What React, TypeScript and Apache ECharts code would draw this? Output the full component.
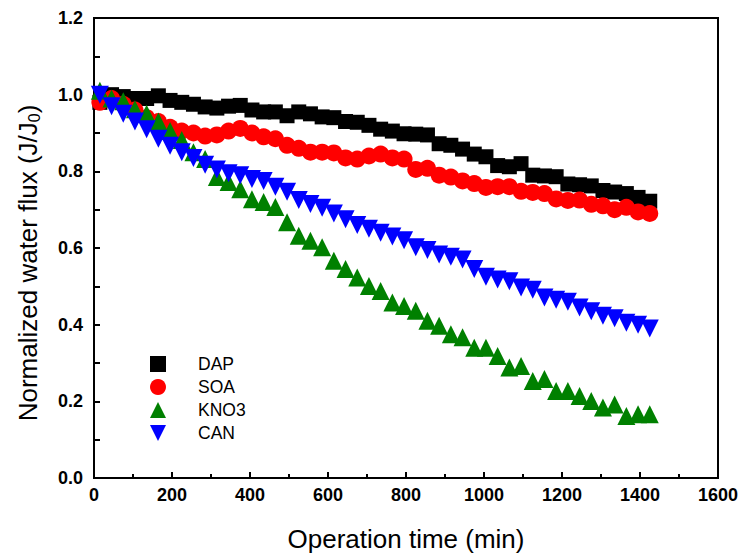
import React, { useEffect, useRef } from "react";
import * as echarts from "echarts";

const times = [15, 45, 75, 105, 135, 165, 195, 225, 255, 285, 315, 345, 375, 405, 435, 465, 495, 525, 555, 585, 615, 645, 675, 705, 735, 765, 795, 825, 855, 885, 915, 945, 975, 1005, 1035, 1065, 1095, 1125, 1155, 1185, 1215, 1245, 1275, 1305, 1335, 1365, 1395, 1425];

const dap = [0.98, 1.0, 0.995, 0.99, 0.99, 0.997, 0.985, 0.98, 0.975, 0.968, 0.965, 0.97, 0.972, 0.96, 0.955, 0.955, 0.945, 0.955, 0.95, 0.942, 0.94, 0.93, 0.928, 0.92, 0.91, 0.905, 0.898, 0.897, 0.895, 0.872, 0.868, 0.858, 0.845, 0.838, 0.815, 0.812, 0.82, 0.79, 0.788, 0.786, 0.767, 0.765, 0.762, 0.75, 0.746, 0.742, 0.732, 0.722];

const soa = [0.98, 0.99, 0.975, 0.96, 0.94, 0.93, 0.915, 0.905, 0.9, 0.892, 0.895, 0.905, 0.912, 0.9, 0.89, 0.885, 0.868, 0.86, 0.85, 0.85, 0.848, 0.835, 0.832, 0.84, 0.845, 0.835, 0.832, 0.805, 0.808, 0.79, 0.785, 0.775, 0.768, 0.758, 0.76, 0.76, 0.748, 0.745, 0.742, 0.728, 0.724, 0.725, 0.714, 0.71, 0.7, 0.706, 0.694, 0.69];

const kno3 = [1.01, 0.99, 0.983, 0.962, 0.95, 0.93, 0.905, 0.882, 0.85, 0.832, 0.785, 0.772, 0.753, 0.727, 0.72, 0.707, 0.667, 0.632, 0.619, 0.602, 0.567, 0.545, 0.523, 0.501, 0.488, 0.458, 0.449, 0.436, 0.41, 0.397, 0.375, 0.367, 0.34, 0.34, 0.318, 0.288, 0.292, 0.253, 0.258, 0.227, 0.227, 0.214, 0.201, 0.184, 0.192, 0.162, 0.166, 0.166];

const can = [1.0, 0.97, 0.95, 0.93, 0.91, 0.885, 0.867, 0.85, 0.835, 0.817, 0.805, 0.795, 0.79, 0.78, 0.775, 0.76, 0.747, 0.725, 0.715, 0.705, 0.69, 0.675, 0.66, 0.65, 0.64, 0.63, 0.62, 0.602, 0.595, 0.583, 0.577, 0.57, 0.545, 0.525, 0.518, 0.513, 0.497, 0.491, 0.471, 0.465, 0.46, 0.445, 0.435, 0.423, 0.417, 0.405, 0.4, 0.39];

const seriesNames = ["DAP", "SOA", "KNO3", "CAN"];
const seriesColors = ["#000000", "#ff0000", "#008000", "#0000ff"];

const FONT = "Liberation Sans, Arial, sans-serif";
const DOWN_TRIANGLE = "path://M0,0L10,0L5,10Z";

function zip(ys: number[]) {
  return times.map((t, i) => [t, ys[i]]);
}

export default function App() {
  const ref = useRef<HTMLDivElement>(null);
  useEffect(() => {
    const chart = echarts.init(ref.current!, null, { renderer: "svg" });
    const axisCommon = {
      axisLine: { show: true, lineStyle: { color: "#000", width: 2 } },
      splitLine: { show: false },
    };
    chart.setOption({
      animation: false,
      backgroundColor: "#fff",
      grid: {
        left: 94,
        right: 29,
        top: 18,
        bottom: 80,
        show: true,
        borderColor: "#000",
        borderWidth: 2,
        backgroundColor: "transparent",
      },
      legend: {
        orient: "vertical",
        left: 150,
        top: 355,
        padding: 0,
        itemWidth: 16,
        itemHeight: 16,
        itemGap: 5,
        data: [
          { name: seriesNames[0], icon: "rect" },
          { name: seriesNames[1], icon: "circle" },
          { name: seriesNames[2], icon: "triangle" },
          { name: seriesNames[3], icon: DOWN_TRIANGLE },
        ],
        textStyle: {
          fontFamily: FONT,
          fontSize: 17.5,
          color: "#000",
          padding: [0, 0, 0, 27],
        },
      },
      xAxis: {
        type: "value",
        min: 0,
        max: 1600,
        interval: 200,
        ...axisCommon,
        axisTick: { show: true, inside: true, length: 6, lineStyle: { color: "#000", width: 2 } },
        minorTick: { show: true, splitNumber: 2, length: 4, lineStyle: { color: "#000", width: 2 } },
        axisLabel: {
          margin: 8,
          color: "#000",
          fontFamily: FONT,
          fontSize: 18,
          fontWeight: "bold",
          formatter: (v: number) => String(v),
        },
        name: "Operation time (min)",
        nameLocation: "middle",
        nameGap: 48,
        nameTextStyle: { fontFamily: FONT, fontSize: 26, color: "#000" },
      },
      yAxis: {
        type: "value",
        min: 0,
        max: 1.2,
        interval: 0.2,
        ...axisCommon,
        axisTick: { show: true, inside: true, length: 6, lineStyle: { color: "#000", width: 2 } },
        minorTick: { show: true, splitNumber: 2, length: 6, lineStyle: { color: "#000", width: 2 } },
        axisLabel: {
          margin: 11,
          color: "#000",
          fontFamily: FONT,
          fontSize: 18,
          fontWeight: "bold",
          formatter: (v: number) => v.toFixed(1),
        },
        name: "Normalized water flux (J/J{sub|0})",
        nameLocation: "middle",
        nameGap: 52,
        nameTextStyle: {
          fontFamily: FONT,
          fontSize: 26,
          color: "#000",
          padding: [0, 30, 0, 0],
          rich: {
            sub: { fontFamily: FONT, fontSize: 16, color: "#000", verticalAlign: "bottom", padding: [12, 0, 0, 0] },
          },
        },
      },
      series: [
        { name: "DAP", type: "scatter", symbol: "rect", symbolSize: 15, data: zip(dap), itemStyle: { color: seriesColors[0], opacity: 1 } },
        { name: "SOA", type: "scatter", symbol: "circle", symbolSize: 17, data: zip(soa), itemStyle: { color: seriesColors[1], opacity: 1 } },
        { name: "KNO3", type: "scatter", symbol: "triangle", symbolSize: 18, data: zip(kno3), itemStyle: { color: seriesColors[2], opacity: 1 } },
        { name: "CAN", type: "scatter", symbol: DOWN_TRIANGLE, symbolSize: 18, data: zip(can), itemStyle: { color: seriesColors[3], opacity: 1 } },
      ],
    });
    return () => chart.dispose();
  }, []);
  return <div ref={ref} style={{ position: "fixed", left: 0, top: 0, width: 747, height: 558 }} />;
}
